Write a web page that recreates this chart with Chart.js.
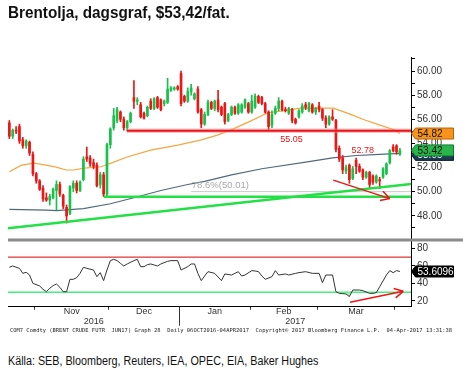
<!DOCTYPE html>
<html>
<head>
<meta charset="utf-8">
<script src="https://cdn.jsdelivr.net/npm/chart.js@4.4.1/dist/chart.umd.min.js"></script>
<style>
  body { margin: 0; background: #fff; width: 463px; height: 373px; overflow: hidden; position: relative; }
  #wrap { position: absolute; left: 0; top: 0; width: 463px; height: 335px; }
  .txt { position: absolute; white-space: pre; transform-origin: 0 0; }
  #title { left: 8px; top: 3px; font: bold 17px "Liberation Sans", sans-serif; color: #111; }
  #foot { left: 10px; top: 327px; font: 5.4px "DejaVu Sans Mono", monospace; color: #222; }
  #src { left: 8px; top: 354px; font: 12.5px "Liberation Sans", sans-serif; color: #111; }
</style>
</head>
<body>
<div id="wrap"><canvas id="myChart" width="463" height="335"></canvas></div>
<div id="title" class="txt">Brentolja, dagsgraf, $53,42/fat.</div>
<div id="foot" class="txt">COM7 Comdty (BRENT CRUDE FUTR  JUN17) Graph 28  Daily 06OCT2016-04APR2017  Copyright© 2017 Bloomberg Finance L.P.  04-Apr-2017 13:31:38</div>
<div id="src" class="txt">Källa: SEB, Bloomberg, Reuters, IEA, OPEC, EIA, Baker Hughes</div>
<script>
// daily candles, 20 Oct 2016 .. 4 Apr 2017 (index = trading day)
const open = [55.7, 54.6, 55.1, 55.4, 54.3, 53.8, 54.1, 53.1, 51.5, 50.9,
  50.3, 49.5, 49.3, 49.5, 50.1, 50.6, 49.7, 48.7, 48.2, 50.3,
  50.7, 50.1, 51.0, 52.9, 52.8, 52.4, 52.2, 50.6, 51.4, 49.8,
  53.9, 55.3, 55.9, 56.6, 56.0, 55.3, 55.8, 57.8, 57.5, 57.2,
  56.5, 56.3, 57.5, 56.9, 57.8, 57.6, 57.3, 57.4, 58.4, 58.5,
  58.7, 59.8, 57.9, 57.5, 58.3, 57.7, 58.5, 56.8, 55.6, 56.4,
  57.4, 56.9, 57.6, 57.0, 57.3, 55.9, 56.4, 57.0, 56.5, 56.6,
  57.0, 57.3, 56.6, 57.0, 57.9, 57.8, 57.3, 56.6, 55.5, 56.5,
  56.9, 57.5, 56.8, 56.5, 56.8, 56.0, 56.2, 56.6, 57.2, 56.7,
  57.2, 56.6, 57.1, 56.8, 56.1, 55.6, 56.2, 55.9, 53.6, 52.8,
  51.7, 52.2, 51.1, 52.6, 52.1, 51.8, 51.2, 51.6, 51.3, 50.8,
  51.0, 51.2, 51.5, 52.4, 53.7, 53.8, 53.1];
const high = [55.9, 55.2, 55.4, 55.6, 54.5, 54.3, 54.2, 53.3, 51.6, 51.0,
  50.5, 49.9, 49.8, 50.3, 50.9, 50.8, 49.8, 48.9, 50.5, 50.9,
  50.9, 50.9, 52.9, 53.7, 53.0, 52.7, 52.4, 51.6, 51.6, 54.0,
  55.3, 56.9, 57.0, 56.7, 56.2, 55.9, 56.6, 59.2, 57.8, 57.4,
  56.6, 57.1, 57.7, 57.8, 57.9, 57.7, 57.6, 59.4, 58.7, 58.7,
  58.8, 60.0, 58.0, 58.6, 58.9, 58.2, 58.7, 56.9, 56.6, 57.6,
  57.5, 57.6, 58.4, 57.1, 57.4, 56.5, 57.1, 57.1, 57.3, 57.3,
  57.7, 57.4, 58.0, 58.1, 58.0, 57.9, 57.4, 56.7, 56.7, 57.1,
  57.8, 57.6, 57.0, 57.0, 56.9, 56.1, 56.8, 57.3, 57.4, 57.4,
  57.3, 57.0, 57.4, 56.9, 56.3, 56.3, 56.8, 56.0, 53.8, 53.0,
  52.2, 52.3, 52.1, 52.78, 52.3, 51.9, 51.7, 51.7, 51.4, 51.4,
  51.2, 52.0, 52.4, 53.5, 53.9, 53.9, 53.6];
const low = [54.4, 54.4, 54.8, 54.0, 53.6, 53.6, 53.0, 51.3, 50.7, 50.1,
  49.2, 49.2, 48.9, 49.4, 48.5, 49.6, 48.6, 47.4, 48.1, 50.0,
  49.9, 50.0, 50.9, 52.5, 52.1, 51.9, 50.4, 50.3, 49.6, 49.6,
  53.6, 55.1, 55.7, 55.8, 55.1, 55.05, 55.7, 56.9, 57.2, 56.1,
  56.0, 56.2, 56.8, 56.8, 56.9, 56.7, 57.1, 57.3, 58.3, 58.4,
  58.4, 57.1, 57.4, 57.4, 58.0, 57.6, 56.5, 55.3, 55.5, 56.3,
  56.8, 56.7, 56.6, 56.3, 55.6, 55.8, 56.3, 56.4, 56.4, 56.5,
  56.9, 56.5, 56.5, 56.9, 57.3, 57.2, 56.5, 55.05, 55.3, 56.4,
  56.7, 56.7, 56.6, 56.4, 55.7, 55.6, 56.1, 56.5, 56.8, 56.6,
  56.5, 56.4, 56.6, 55.9, 55.3, 55.5, 55.9, 53.3, 52.5, 51.5,
  51.5, 50.7, 51.0, 51.5, 51.6, 51.0, 51.1, 50.3, 50.6, 50.7,
  50.25, 51.1, 51.4, 52.3, 53.3, 53.1, 53.0];
const close = [54.6, 55.1, 55.0, 54.2, 53.8, 54.2, 53.2, 51.5, 50.9, 50.2,
  49.4, 49.3, 49.6, 50.2, 50.6, 49.8, 48.8, 48.0, 50.4, 50.7,
  50.1, 50.8, 52.7, 52.7, 52.3, 52.1, 50.5, 51.4, 49.8, 53.9,
  55.2, 56.3, 56.8, 56.0, 55.3, 55.8, 56.5, 57.5, 57.6, 56.2,
  56.1, 57.0, 56.9, 57.7, 57.0, 56.8, 57.5, 58.5, 58.6, 58.6,
  58.5, 57.3, 57.5, 58.3, 58.6, 58.1, 56.6, 55.6, 56.4, 57.4,
  56.9, 57.5, 56.8, 56.4, 55.8, 56.4, 57.0, 56.5, 57.2, 57.2,
  57.6, 56.6, 57.5, 57.9, 57.4, 57.3, 56.6, 55.4, 56.4, 56.9,
  57.5, 56.8, 56.7, 56.9, 55.9, 55.7, 56.7, 57.1, 57.0, 57.3,
  56.6, 56.9, 56.8, 56.1, 55.6, 56.2, 56.0, 53.5, 52.7, 51.8,
  52.0, 51.0, 51.9, 52.1, 51.7, 51.2, 51.6, 50.6, 50.8, 51.3,
  50.9, 51.9, 52.3, 53.4, 53.4, 53.3, 53.42];

// moving averages, read at points along the lines
const orangeDay = [0, 3.6, 7.4, 10.9, 13.9, 16.9, 19, 22.3, 27.2, 30.2, 35.2, 42, 50, 56.8, 61.8, 65.7, 71.6, 76.6, 80.5, 86.4, 96.2, 101.2, 105.6, 110.1, 114.5, 116];
const orangeMa = [51.65, 52.2, 52.37, 52.2, 52.04, 51.8, 51.8, 51.96, 52.07, 52.37, 52.9, 53.45, 53.86, 54.28, 54.69, 55.1, 55.85, 56.52, 56.68, 56.93, 56.93, 56.43, 55.94, 55.52, 55.11, 54.82];
const blueDay = [0, 11, 14, 22, 30, 37, 45, 53, 58, 66, 75, 89, 96, 103, 110, 116];
const blueMa = [48.53, 48.47, 48.43, 48.6, 49.0, 49.5, 50.1, 50.6, 50.85, 51.4, 51.9, 52.5, 52.8, 53.0, 53.1, 53.18];

// RSI
const rsiDay = [0, 1, 3, 4, 5, 6, 7, 9, 10, 11, 12, 13, 14, 15, 16, 17, 18, 19, 20, 21, 22, 23, 25, 26, 27, 28, 29, 30,
  31, 32, 33, 34, 35, 37, 38, 39, 40, 41, 42, 43, 44, 45, 47, 48, 50, 51, 53, 54, 55, 56, 57, 58, 59, 61, 63, 64,
  66, 67, 68, 69, 70, 72, 73, 74, 75, 76, 78, 79, 80, 82, 83, 85, 86, 88, 90, 92, 93, 94, 96, 97, 98, 100, 101,
  102, 104, 105, 107, 108, 109, 110, 112, 113, 114, 115, 116];
const rsi = [58.4, 59.9, 57.2, 51.5, 52.7, 49.6, 40.1, 37.1, 33.3, 30.6, 34.4, 37.5, 39.4, 35.6, 30.6, 30.6, 44.7, 44.7,
  46.6, 51.5, 58.4, 57.2, 55.3, 47.7, 52.3, 43.2, 55.3, 66.0, 67.5, 66.0, 62.9, 59.9, 62.2, 66.0, 67.5, 59.1, 59.1,
  61.4, 62.2, 61.0, 59.9, 62.2, 65.2, 66.0, 66.0, 55.3, 59.1, 62.2, 62.2, 51.5, 43.2, 48.5, 53.4, 51.5, 43.2, 50.8,
  49.6, 51.5, 53.4, 48.5, 49.6, 54.6, 54.2, 53.4, 48.5, 44.7, 47.7, 54.6, 49.6, 50.8, 49.6, 51.5, 52.3, 53.4, 51.5,
  51.5, 40.9, 49.6, 49.6, 30.6, 28.7, 28.0, 25.0, 32.5, 32.5, 31.8, 28.7, 28.7, 29.5, 36.3, 49.6, 54.6, 52.3, 54.6, 53.6096];

// drawn levels
const resistance = 55.05, resistanceFrom = 34.9;
const support = 49.58, supportFrom = 28.1;
const fibLevel = 50.01, fibFrom = 54;
const trendDay = [-0.4, 119.3], trend = [46.97, 50.63];
const priceArrowDay = [96.2, 113], priceArrow = [50.96, 49.43];
const rsiArrowDay = [101.2, 117], rsiArrow = [18.5, 31];
const rsiHigh = 70, rsiLow = 30;
const slowMaLast = 53.05;

// axes
const monthNames = ["Nov", "Dec", "Jan", "Feb", "Mar"];
const monthStart = [8, 30, 51, 72, 92, 115];
const yearNames = ["2016", "2017"];
const priceTicks = [47, 48, 49, 50, 51, 52, 53, 54, 55, 56, 57, 58, 59, 60, 61];
const rsiTicks = [20, 40, 60, 80];
const xMin = -0.4, xMax = 119.3;

const pts = (xs, ys) => xs.map((v, i) => ({ x: v, y: ys[i] }));
const candles = close.map((c, i) => i);
const RED = "#ee1515", GREEN = "#17c24a";
const colorOf = (c) => close[c.dataIndex] >= open[c.dataIndex] ? GREEN : RED;

// tick positions on the date axis
const bounds = monthStart.map((d) => d - 0.5);
const mids = monthNames.map((m, i) => (monthStart[i] + monthStart[i + 1] - 1) / 2);
const yearSplit = bounds[2];
const yearMids = [(xMin + yearSplit) / 2, (yearSplit + xMax) / 2];
const xTicks = [...bounds, ...mids, ...yearMids];

function xLabel(v) {
  const m = mids.indexOf(v);
  if (m >= 0) return monthNames[m];
  const y = yearMids.indexOf(v);
  if (y >= 0) return ["", yearNames[y]];
  return "";
}

function line(data, color, width, axis, extra) {
  return Object.assign({
    type: "line", data: data, yAxisID: axis, borderColor: color, borderWidth: width,
    pointRadius: 0, tension: 0, fill: false,
  }, extra || {});
}

function tag(ctx, x0, y, text, fill, stroke, color) {
  const h = 11, w = 42;
  ctx.beginPath();
  ctx.moveTo(x0, y);
  ctx.lineTo(x0 + 4, y - h / 2);
  ctx.lineTo(x0 + w, y - h / 2);
  ctx.lineTo(x0 + w, y + h / 2);
  ctx.lineTo(x0 + 4, y + h / 2);
  ctx.closePath();
  ctx.fillStyle = fill;
  ctx.fill();
  ctx.strokeStyle = stroke;
  ctx.lineWidth = 1;
  ctx.stroke();
  ctx.fillStyle = color;
  ctx.font = "10px 'Liberation Sans'";
  ctx.textAlign = "left";
  ctx.textBaseline = "middle";
  ctx.fillText(text, x0 + 6, y + 0.5);
}

const extras = {
  id: "extras",
  afterDatasetsDraw(chart) {
    const { ctx, scales } = chart;
    const x = scales.x, y = scales.y;
    ctx.save();
    // arrow heads
    chart.data.datasets.forEach((ds, di) => {
      if (!ds.arrow) return;
      const p = chart.getDatasetMeta(di).data;
      const a = p[p.length - 2], b = p[p.length - 1];
      const ang = Math.atan2(b.y - a.y, b.x - a.x);
      ctx.strokeStyle = ds.borderColor;
      ctx.lineWidth = ds.borderWidth;
      ctx.beginPath();
      [-0.5, 0.5].forEach((s) => {
        ctx.moveTo(b.x, b.y);
        ctx.lineTo(b.x - 10 * Math.cos(ang + s), b.y - 10 * Math.sin(ang + s));
      });
      ctx.stroke();
    });
    // level notes
    ctx.font = "9px 'Liberation Sans'";
    ctx.textBaseline = "middle";
    ctx.textAlign = "center";
    ctx.fillStyle = RED;
    ctx.fillText("55.05", x.getPixelForValue(83.8), y.getPixelForValue(resistance) + 9);
    ctx.fillText("52.78", x.getPixelForValue(105), y.getPixelForValue(52.78) - 7.5);
    ctx.textAlign = "left";
    ctx.fillStyle = "#a8a8a8";
    ctx.font = "9.5px 'Liberation Sans'";
    ctx.fillText("78.6%(50.01)", x.getPixelForValue(54.2), y.getPixelForValue(fibLevel) - 6.5);
    ctx.restore();
  },
  afterDraw(chart) {
    const { ctx, scales, chartArea } = chart;
    const x = scales.x, y = scales.y, r = scales.y2;
    ctx.save();
    // panel separator
    ctx.strokeStyle = "#8a8a8a";
    ctx.lineWidth = 3;
    ctx.beginPath();
    ctx.moveTo(chartArea.left, y.bottom);
    ctx.lineTo(chart.width, y.bottom);
    ctx.stroke();
    // year divider
    const xs = Math.round(x.getPixelForValue(yearSplit)) + 0.5;
    ctx.strokeStyle = "#333";
    ctx.lineWidth = 1;
    ctx.beginPath();
    ctx.moveTo(xs, x.top);
    ctx.lineTo(xs, x.top + 19);
    ctx.stroke();
    // last value tags
    const x0 = chartArea.right + 0.5;
    const lastMa = orangeMa[orangeMa.length - 1], lastClose = close[close.length - 1], lastRsi = rsi[rsi.length - 1];
    tag(ctx, x0, y.getPixelForValue(slowMaLast), slowMaLast.toFixed(2), "#1d3a52", "#0d2233", "#fff");
    tag(ctx, x0, y.getPixelForValue(lastMa), lastMa.toFixed(2), "#f7941d", "#b86200", "#111");
    tag(ctx, x0, y.getPixelForValue(lastClose), lastClose.toFixed(2), "#28b54b", "#127a2c", "#111");
    tag(ctx, x0, r.getPixelForValue(lastRsi), lastRsi.toFixed(4), "#000", "#000", "#fff");
    ctx.restore();
  },
};

const ctx = document.getElementById("myChart").getContext("2d");
const myChart = new Chart(ctx, {
  type: "bar",
  data: {
    datasets: [
      line(pts(priceArrowDay, priceArrow), RED, 1.5, "y", { arrow: true }),
      line(pts(rsiArrowDay, rsiArrow), RED, 1.5, "y2", { arrow: true }),
      line(pts([resistanceFrom, xMax], [resistance, resistance]), "#e8141c", 2, "y"),
      line(pts([resistanceFrom, xMax], [resistance, resistance]), "rgba(255,140,140,0.55)", 4.5, "y"),
      line(pts([supportFrom, xMax], [support, support]), "#22e045", 2.5, "y"),
      line(pts(trendDay, trend), "#22e045", 2.5, "y"),
      line(pts([fibFrom, xMax], [fibLevel, fibLevel]), "#cccccc", 1, "y"),
      {
        type: "bar", label: "body", yAxisID: "y", grouped: false, barThickness: 2,
        data: candles.map((i) => ({ x: i, y: [Math.min(open[i], close[i]), Math.max(open[i], close[i])] })),
        backgroundColor: colorOf, borderWidth: 0,
      },
      {
        type: "bar", label: "wick", yAxisID: "y", grouped: false, barThickness: 1,
        data: candles.map((i) => ({ x: i, y: [low[i], high[i]] })),
        backgroundColor: colorOf, borderWidth: 0,
      },
      line(pts(orangeDay, orangeMa), "#f7a540", 1.2, "y"),
      line(pts(blueDay, blueMa), "#51697b", 1.2, "y"),
      line(pts(rsiDay, rsi), "#333333", 1, "y2", {
        fill: { target: { value: rsiLow }, above: "rgba(0,0,0,0)", below: "rgba(150,238,170,0.75)" },
      }),
      line(pts([xMin, xMax], [rsiHigh, rsiHigh]), "#d40000", 1, "y2"),
      line(pts([xMin, xMax], [rsiLow, rsiLow]), "#3cef78", 1.5, "y2"),
    ],
  },
  options: {
    responsive: false,
    animation: false,
    events: [],
    layout: { padding: { top: 57, left: 8, right: 0, bottom: 0 } },
    plugins: { legend: { display: false }, tooltip: { enabled: false } },
    scales: {
      x: {
        type: "linear", min: xMin, max: xMax, bounds: "data", offset: false,
        afterBuildTicks: (s) => { s.ticks = xTicks.map((v) => ({ value: v })); },
        afterFit: (s) => { s.height = 28.3; },
        grid: {
          offset: false, drawOnChartArea: false, tickLength: 3,
          tickColor: (c) => (c.tick && bounds.includes(c.tick.value) ? "#333" : "rgba(0,0,0,0)"),
        },
        border: { color: "#000" },
        ticks: {
          autoSkip: false, maxRotation: 0, padding: -3, color: "#333",
          font: { size: 9, family: "Liberation Sans", lineHeight: 1.1 },
          callback: (v) => xLabel(v),
        },
      },
      y: {
        type: "linear", position: "right", stack: "panels", stackWeight: 183,
        min: 46, max: 61.16, bounds: "data",
        afterBuildTicks: (s) => { s.ticks = priceTicks.map((v) => ({ value: v })); },
        afterFit: (s) => { s.width = 52; },
        grid: { drawOnChartArea: false, tickLength: 4, tickColor: "#000" },
        border: { color: "#000" },
        ticks: {
          autoSkip: false, padding: 2, color: "#333",
          font: { size: 10, family: "Liberation Sans" },
          callback: (v) => (v % 2 === 0 && v >= 48 && v <= 60 ? v.toFixed(2) : ""),
        },
      },
      y2: {
        type: "linear", position: "right", stack: "panels", stackWeight: 66.7,
        min: 13.5, max: 89.5, bounds: "data",
        afterBuildTicks: (s) => { s.ticks = rsiTicks.map((v) => ({ value: v })); },
        afterFit: (s) => { s.width = 52; },
        grid: { drawOnChartArea: false, tickLength: 4, tickColor: "#000" },
        border: { color: "#000" },
        ticks: {
          autoSkip: false, padding: 2, color: "#333",
          font: { size: 10, family: "Liberation Sans" },
          callback: (v) => String(v),
        },
      },
    },
  },
  plugins: [extras],
});

// squeeze the condensed texts to the widths they have in the picture
[["title", 222], ["src", 311], ["foot", 442]].forEach(([id, w]) => {
  const el = document.getElementById(id);
  el.style.transform = "scaleX(" + (w / el.offsetWidth).toFixed(3) + ")";
});
</script>
</body>
</html>
